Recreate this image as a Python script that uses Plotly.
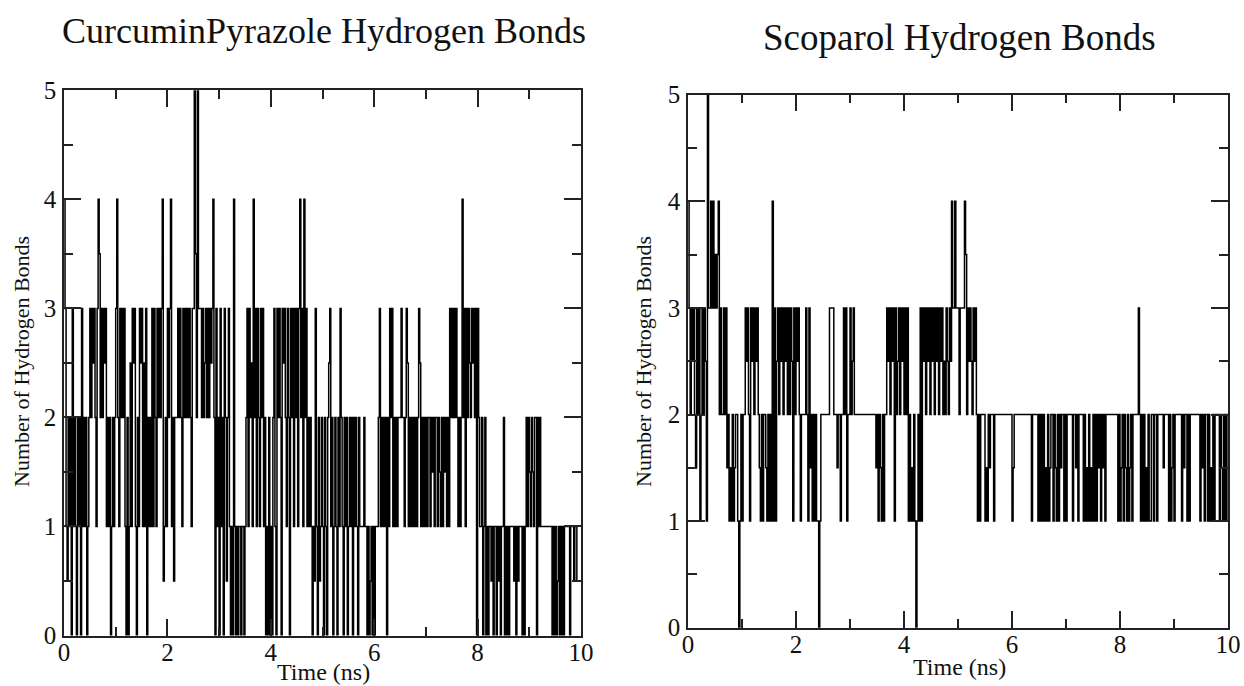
import numpy as np
import plotly.graph_objects as go

FRAME_NS = 0.02   # analysis interval between frames (ns)
T_END = 10.0      # end of the trajectory (ns)

# CurcuminPyrazole: hydrogen bonds per frame, one list per 0.5 ns window
cp_00 = [4, 3, 1, 0.5, 2, 1, 2, 0, 3, 1, 2, 1, 0, 2, 1, 2, 0, 3, 1, 2, 1, 2, 0, 1, 2]
cp_05 = [3, 2, 3, 2.5, 3, 2, 1, 3, 4, 3.5, 2, 3, 2, 3, 2.5, 3, 1, 2, 1, 2, 0, 1, 2, 1, 2]
cp_10 = [3, 4, 2, 1, 3, 2, 3, 2, 3, 1, 0, 2, 0, 1, 2.5, 1, 3, 2.5, 3, 1, 0, 2, 1, 3, 2.5]
cp_15 = [3, 1, 2.5, 1, 3, 0, 2, 1, 2, 1, 3, 1, 3, 2, 1, 3, 2, 3, 2, 3, 4, 0.5, 1, 2, 1]
cp_20 = [3, 2, 3, 4, 1, 2, 0.5, 2, 2, 2, 3, 2, 3, 2, 1, 3, 2, 3, 2, 3, 2, 3, 2, 1, 3]
cp_25 = [3, 5, 3.5, 2, 5, 3, 3, 3, 2, 3, 2, 2.5, 3, 2, 3, 2, 3, 2.5, 3, 4, 2, 0, 3, 1, 2]
cp_30 = [0, 3, 1, 2, 0, 3, 2, 0.5, 2, 3, 1, 0, 1, 0, 4, 1, 0, 1, 0, 1, 1, 0, 1, 1, 0]
cp_35 = [1, 2, 3, 1, 3, 2, 2.5, 1, 4, 2, 3, 1, 3, 2, 1, 3, 2, 3, 1, 2, 0, 1, 0, 2, 0]
cp_40 = [1, 0, 2, 3, 1, 0, 3, 2, 3, 2, 0, 3, 2.5, 3, 2, 1, 3, 2, 0, 3, 2, 3, 1, 3, 2]
cp_45 = [3, 1, 3, 4, 2, 3, 1, 4, 2, 3, 1, 2, 1, 2, 1, 0, 1, 0.5, 3, 1, 0, 2, 0.5, 1, 2]
cp_50 = [1, 0, 2, 1, 0, 2, 2.5, 3, 1, 2, 0, 1, 2, 1, 0, 2, 1, 3, 2, 1, 0, 2, 1, 2, 0]
cp_55 = [1, 2, 1, 2, 0, 2, 1, 2, 1, 0, 2, 1, 1, 1, 1, 2, 1, 1, 0, 1, 0, 0.5, 1, 0, 1]
cp_60 = [0, 1, 1, 1, 2, 3, 1, 2, 1, 2, 1, 2, 0, 2, 1, 3, 2, 3, 1, 2, 1, 2, 1, 2, 2]
cp_65 = [2, 3, 2, 2, 1, 2, 3, 2.5, 1, 2, 1, 2, 1, 2, 1, 2, 1, 2, 3, 2.5, 1, 2, 1, 2, 1]
cp_70 = [2, 1, 2, 2, 1, 2, 1.5, 2, 1, 2, 2, 1, 2, 1.5, 1, 2, 1, 2, 1.5, 2, 1, 2, 1, 3, 2]
cp_75 = [3, 2, 3, 2, 3, 2, 1, 2, 1, 2, 4, 2, 3, 1, 3, 2, 3, 2.5, 2, 3, 2.5, 3, 2, 3, 0]
cp_80 = [3, 2, 1, 1, 2, 0, 1, 2, 0, 1, 0, 1, 1, 0.5, 1, 0, 1, 1, 0, 1, 0.5, 1, 0, 1, 1]
cp_85 = [2, 0, 1, 0, 1, 0, 1, 1, 1, 1, 0.5, 1, 0, 1, 0.5, 1, 1, 1, 0, 1, 0, 1, 2, 1, 2]
cp_90 = [1.5, 1, 2, 1.5, 1, 2, 2, 0, 2, 1, 2, 1, 1, 1, 1, 1, 1, 1, 1, 1, 1, 1, 0, 1, 0]
cp_95 = [1, 0, 0.5, 1, 0, 1, 0, 1, 0, 1, 1, 1, 1, 1, 0, 1, 1, 1, 0.5, 1, 1, 0.5, 0.5, 0.5, 0.5]

# Scoparol: hydrogen bonds per frame, one list per 0.5 ns window
sc_00 = [4, 3, 2, 3, 2.5, 3, 2, 1.5, 3, 2, 3, 1, 2, 3, 2, 3, 2.5, 1, 5, 3, 3, 4, 3, 4, 3]
sc_05 = [3.5, 3, 3.5, 4, 2, 3, 2, 2, 3, 2, 3, 1.5, 2, 1, 1.5, 1, 2, 1, 1.5, 2, 2, 1, 0, 1, 2]
sc_10 = [1, 2, 2, 3, 2.5, 3, 2, 1, 3, 2.5, 3, 2, 3, 2.5, 3, 2, 1.5, 1, 2, 1, 2, 2, 1.5, 1, 2]
sc_15 = [1, 2, 1, 4, 1, 3, 1, 2.5, 3, 2, 3, 2.5, 3, 2, 3, 2.5, 3, 2, 3, 2, 3, 2.5, 1, 3, 2]
sc_20 = [3, 2.5, 3, 2, 1, 2, 2, 2, 2, 3, 2, 1, 3, 1.5, 2, 1, 2, 1, 2, 1, 1, 0, 1, 2, 2]
sc_25 = [2, 2, 2, 2, 2, 2, 3, 3, 3, 3, 2, 2, 2, 1.5, 2, 2, 1, 2, 2, 3, 2, 3, 1, 2, 2]
sc_30 = [3, 2, 2.5, 3, 2, 2, 2, 2, 2, 2, 2, 2, 2, 2, 2, 2, 2, 2, 2, 2, 2, 2, 2, 2, 1.5]
sc_35 = [2, 1, 2, 1.5, 1, 2, 1, 2, 2, 3, 2.5, 3, 2, 3, 2.5, 3, 1, 3, 2, 2.5, 3, 2, 3, 2.5, 3]
sc_40 = [2, 3, 2, 3, 1, 2, 1, 1.5, 1, 2, 1, 0, 1, 2, 1, 3, 1, 3, 2.5, 3, 2, 3, 2.5, 3, 2]
sc_45 = [3, 2.5, 3, 2, 3, 2.5, 3, 2, 3, 2.5, 3, 2, 2.5, 2, 3, 2.5, 2, 3, 2.5, 4, 3, 3, 4, 3, 3]
sc_50 = [3, 2, 3, 3, 3, 3, 4, 3.5, 2, 3, 2.5, 3, 2.5, 2, 3, 2.5, 3, 2, 1, 2, 1, 2, 2, 2, 2]
sc_55 = [1, 1.5, 1, 2, 1.5, 2, 2, 2, 1, 2, 2, 2, 2, 2, 2, 2, 2, 2, 2, 2, 2, 2, 2, 2, 2]
sc_60 = [1, 1.5, 2, 2, 2, 2, 2, 2, 2, 2, 2, 2, 2, 2, 2, 2, 2, 2, 1, 2, 2, 2, 2, 2, 1]
sc_65 = [2, 1, 2, 1, 2, 1, 1.5, 1, 2, 1, 1.5, 2, 2, 1, 2, 1.5, 1, 2, 1, 2, 1.5, 2, 2, 1, 2]
sc_70 = [1, 2, 2, 2, 2, 2, 1, 2, 2, 1.5, 2, 1, 2, 2, 2, 2, 1, 2, 1, 1.5, 1, 2, 1, 1.5, 1]
sc_75 = [2, 1, 2, 1, 2, 1.5, 2, 1, 2, 1.5, 2, 1, 2, 2, 2, 2, 2, 2, 2, 2, 2, 2, 2, 1, 2]
sc_80 = [1, 1.5, 2, 1, 2, 1.5, 1, 2, 1, 1.5, 2, 1, 2, 2, 2, 2, 2, 3, 2, 1, 2, 1, 2, 1, 1.5]
sc_85 = [1, 2, 1, 1, 2, 2, 1, 2, 2, 1, 2, 2, 2, 2, 2, 1.5, 2, 2, 2, 2, 1, 2, 1, 1.5, 2]
sc_90 = [1, 2, 2, 2, 2, 2, 2, 1, 2, 1.5, 2, 2, 1, 2, 1, 2, 2, 2, 2, 2, 2, 2, 2, 2, 1]
sc_95 = [2, 1.5, 2, 1, 2, 2, 1, 2, 1, 1.5, 1, 2, 1, 2, 2, 2, 2, 1, 2, 1.5, 1, 2, 1, 2, 1]

x_ticks = [0, 2, 4, 6, 8, 10]
y_ticks = [0, 1, 2, 3, 4, 5]

cp_windows = [cp_00, cp_05, cp_10, cp_15, cp_20, cp_25, cp_30, cp_35, cp_40, cp_45,
              cp_50, cp_55, cp_60, cp_65, cp_70, cp_75, cp_80, cp_85, cp_90, cp_95]
sc_windows = [sc_00, sc_05, sc_10, sc_15, sc_20, sc_25, sc_30, sc_35, sc_40, sc_45,
              sc_50, sc_55, sc_60, sc_65, sc_70, sc_75, sc_80, sc_85, sc_90, sc_95]


def series(windows):
    vals = [v for w in windows for v in w]
    t = list(np.arange(len(vals)) * FRAME_NS)
    # hold the last frame to the end of the run
    return t + [T_END], vals + [vals[-1]]


W, H = 1244, 686
SERIF = "Liberation Serif, Times New Roman, serif"


def fx(px):
    return px / W


def fy(py):
    return 1 - py / H


fig = go.Figure()
for name, windows, xa, ya in [("CurcuminPyrazole", cp_windows, "x", "y"),
                              ("Scoparol", sc_windows, "x2", "y2")]:
    t, v = series(windows)
    fig.add_trace(go.Scatter(x=t, y=v, mode="lines", name=name, xaxis=xa, yaxis=ya,
                             line=dict(color="black", width=1.5, shape="hv", simplify=False),
                             showlegend=False, hoverinfo="skip"))

axis_common = dict(showline=True, linecolor="#222", linewidth=1.5, mirror="ticks",
                   ticks="inside", tickcolor="#222", tickwidth=1.5, ticklen=17,
                   showgrid=False, zeroline=False, automargin=False,
                   tickfont=dict(family=SERIF, size=25, color="#111"))
xcommon = dict(axis_common, range=[0, 10], tickvals=x_ticks, ticklabelstandoff=-6,
               minor=dict(dtick=1, tick0=0, ticks="inside", ticklen=9, tickwidth=1.5,
                          tickcolor="#222", showgrid=False))
ycommon = dict(axis_common, range=[0, 5], tickvals=y_ticks, ticklabelstandoff=1,
               minor=dict(dtick=0.5, tick0=0, ticks="inside", ticklen=9, tickwidth=1.5,
                          tickcolor="#222", showgrid=False))

fig.update_layout(
    width=W, height=H, margin=dict(l=0, r=0, t=0, b=0, autoexpand=False),
    paper_bgcolor="white", plot_bgcolor="white",
    xaxis=dict(xcommon, domain=[fx(64), fx(581)], anchor="y"),
    yaxis=dict(ycommon, domain=[fy(635.5), fy(90.3)], anchor="x"),
    xaxis2=dict(xcommon, domain=[fx(688), fx(1228)], anchor="y2"),
    yaxis2=dict(ycommon, domain=[fy(627.7), fy(94.7)], anchor="x2"),
)

texts = [
    ("CurcuminPyrazole Hydrogen Bonds", 324, 31, 36, 0),
    ("Scoparol Hydrogen Bonds", 959, 38, 37, 0),
    ("Time (ns)", 323, 672, 24, 0),
    ("Time (ns)", 959, 667, 24, 0),
    ("Number of Hydrogen Bonds", 21, 362, 22, -90),
    ("Number of Hydrogen Bonds", 643, 362, 22, -90),
]
for txt, x, y, size, ang in texts:
    fig.add_annotation(text=txt, x=fx(x), y=fy(y), xref="paper", yref="paper",
                       xanchor="center", yanchor="middle", showarrow=False,
                       textangle=ang, font=dict(family=SERIF, size=size, color="#111"))

fig.write_html("out.html")
